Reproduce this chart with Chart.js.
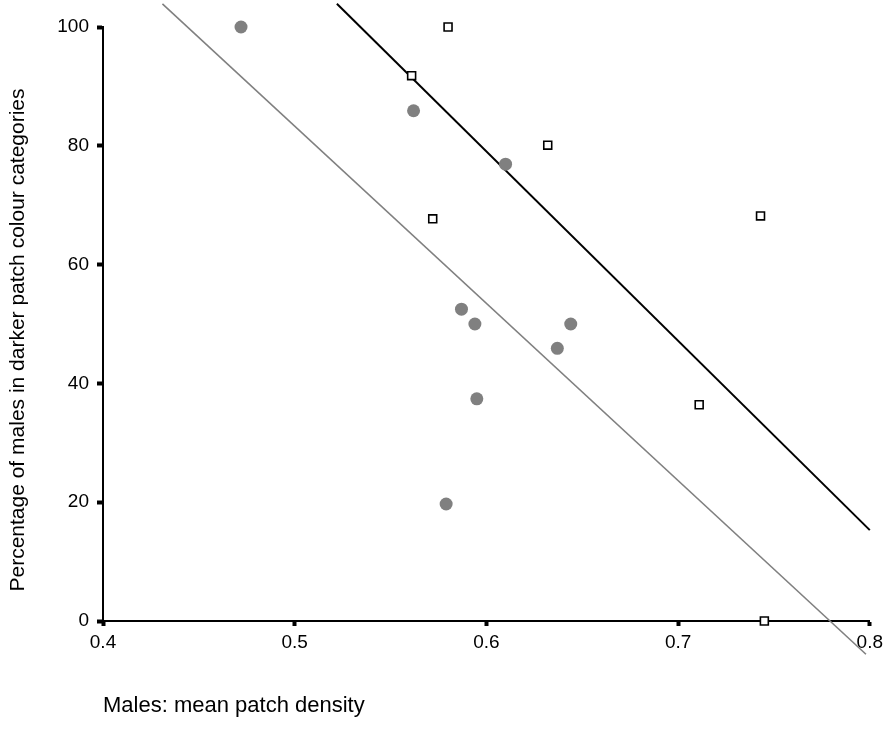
<!DOCTYPE html>
<html>
<head>
<meta charset="utf-8">
<script src="https://cdn.jsdelivr.net/npm/chart.js@4/dist/chart.umd.min.js"></script>
<style>
  html, body { margin: 0; padding: 0; background: #fff; }
  #wrap { width: 888px; height: 731px; }
</style>
</head>
<body>
<div id="wrap"><canvas id="chart" width="888" height="731"></canvas></div>
<script>
"use strict";

// gray filled circles
const circleX = [0.472, 0.562, 0.610, 0.587, 0.594, 0.644, 0.637, 0.595, 0.579];
const circleY = [100, 85.9, 76.9, 52.5, 50, 50, 45.9, 37.4, 19.7];

// open squares
const squareX = [0.580, 0.561, 0.632, 0.572, 0.743, 0.711, 0.745];
const squareY = [100, 91.8, 80.1, 67.7, 68.2, 36.4, 0];

// fitted lines (end points)
const blackLineX = [0.522, 0.800];
const blackLineY = [103.9, 15.3];
const grayLineX = [0.431, 0.798];
const grayLineY = [103.9, -5.6];

const xTicks = [0.4, 0.5, 0.6, 0.7, 0.8];
const yTicks = [0, 20, 40, 60, 80, 100];

const X_TITLE = "Males: mean patch density";
const Y_TITLE = "Percentage of males in darker patch colour categories";

const FONT = "'Liberation Sans', Arial, sans-serif";
const GRAY = "#808080";

function pts(xs, ys) { return xs.map((x, i) => ({ x, y: ys[i] })); }

// y title sits a little below the plot centre in the original, so draw it by hand
const yTitle = {
  id: "yTitle",
  afterDraw(chart) {
    const ctx = chart.ctx;
    ctx.save();
    ctx.translate(18, 340);
    ctx.rotate(-Math.PI / 2);
    ctx.font = "21px " + FONT;
    ctx.fillStyle = "#000";
    ctx.textAlign = "center";
    ctx.textBaseline = "middle";
    ctx.fillText(Y_TITLE, 0, 0);
    ctx.restore();
  },
};

Chart.defaults.color = "#000";
Chart.defaults.font.family = FONT;

new Chart(document.getElementById("chart"), {
  type: "scatter",
  data: {
    datasets: [
      { type: "line", data: pts(grayLineX, grayLineY), borderColor: GRAY, borderWidth: 1.6,
        pointRadius: 0, fill: false, clip: false, order: 3 },
      { type: "line", data: pts(blackLineX, blackLineY), borderColor: "#000", borderWidth: 2,
        pointRadius: 0, fill: false, clip: false, order: 2 },
      { data: pts(circleX, circleY), pointStyle: "circle", pointRadius: 6.5,
        backgroundColor: GRAY, borderColor: GRAY, borderWidth: 0, clip: false, order: 1 },
      { data: pts(squareX, squareY), pointStyle: "rect", pointRadius: 5.6,
        backgroundColor: "#fff", borderColor: "#000", borderWidth: 1.6, clip: false, order: 0 },
    ],
  },
  options: {
    responsive: false,
    animation: false,
    events: [],
    layout: { padding: { top: 27, right: 16, left: 0, bottom: 0 } },
    plugins: { legend: { display: false }, tooltip: { enabled: false } },
    scales: {
      x: {
        type: "linear", min: 0.4, max: 0.8,
        afterBuildTicks: (s) => { s.ticks = xTicks.map((v) => ({ value: v })); },
        afterFit: (s) => { s.height = 110; },
        border: { display: true, color: "#000", width: 2 },
        grid: { drawOnChartArea: false, drawTicks: true, tickLength: 5, tickWidth: 4, color: "#000" },
        ticks: { font: { size: 19 }, padding: 5, maxRotation: 0 },
        title: { display: true, text: X_TITLE, align: "start",
          font: { size: 22 }, padding: { top: 0, bottom: 12 } },
      },
      y: {
        type: "linear", min: 0, max: 100,
        afterBuildTicks: (s) => { s.ticks = yTicks.map((v) => ({ value: v })); },
        afterFit: (s) => { s.width = 103; },
        border: { display: true, color: "#000", width: 2 },
        grid: { drawOnChartArea: false, drawTicks: true, tickLength: 6, tickWidth: 4, color: "#000" },
        ticks: { font: { size: 19 }, padding: 8 },
      },
    },
  },
  plugins: [yTitle],
});
</script>
</body>
</html>
